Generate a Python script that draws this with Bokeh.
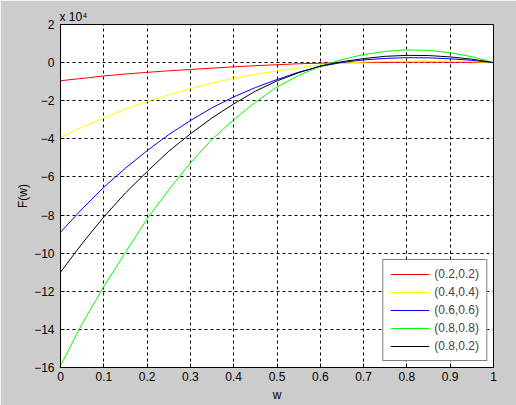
from bokeh.plotting import figure
from bokeh.models import Legend, LegendItem, Title, FixedTicker, Range1d
from bokeh.embed import file_html
from bokeh.resources import INLINE

# Data (F(w) in units of 10^4)
w = [0.0, 0.05, 0.1, 0.15, 0.2, 0.25, 0.3, 0.35, 0.4, 0.45, 0.5,
     0.55, 0.6, 0.65, 0.7, 0.75, 0.8, 0.85, 0.9, 0.95, 1.0]
f_02_02 = [-0.95, -0.83, -0.70, -0.60, -0.51, -0.43, -0.36, -0.29, -0.22, -0.16, -0.11,
           -0.06, -0.03, -0.01, 0.00, 0.01, 0.02, 0.02, 0.02, 0.01, 0.0]
f_04_04 = [-3.92, -3.39, -2.91, -2.44, -2.03, -1.70, -1.37, -1.07, -0.83, -0.61, -0.44,
           -0.27, -0.12, -0.03, 0.03, 0.06, 0.08, 0.09, 0.08, 0.05, 0.0]
f_06_06 = [-8.90, -7.68, -6.54, -5.54, -4.62, -3.78, -3.04, -2.37, -1.80, -1.31, -0.89,
           -0.50, -0.20, 0.01, 0.14, 0.22, 0.26, 0.25, 0.20, 0.12, 0.0]
f_08_08 = [-15.9, -13.7, -11.75, -9.96, -8.2, -6.68, -5.26, -4.02, -3.0, -2.08, -1.28,
           -0.67, -0.19, 0.16, 0.42, 0.59, 0.67, 0.64, 0.52, 0.31, 0.0]
f_08_02 = [-11.0, -9.49, -8.10, -6.84, -5.72, -4.65, -3.74, -2.90, -2.17, -1.50, -0.96,
           -0.53, -0.18, 0.05, 0.21, 0.33, 0.38, 0.37, 0.30, 0.18, 0.0]

series_labels = ["(0.2,0.2)", "(0.4,0.4)", "(0.6,0.6)", "(0.8,0.8)", "(0.8,0.2)"]
series_values = [f_02_02, f_04_04, f_06_06, f_08_08, f_08_02]
series_colors = ["#ff0000", "#ffff00", "#0000ff", "#00ff00", "#000000"]

x_ticks = [0, 0.1, 0.2, 0.3, 0.4, 0.5, 0.6, 0.7, 0.8, 0.9, 1.0]
y_ticks = [-16, -14, -12, -10, -8, -6, -4, -2, 0, 2]
exponent_text = "x 10\u2074"

FONT = "Liberation Sans"
GRAY = "#cccccc"

p = figure(width=516, height=405, output_backend="svg", toolbar_location=None,
           x_range=Range1d(0, 1), y_range=Range1d(-16, 2),
           min_border_left=60, min_border_right=23, min_border_top=24, min_border_bottom=38)
p.border_fill_color = GRAY
p.background_fill_color = "white"
p.outline_line_color = "black"
p.outline_line_width = 1

# exponent label shown above the axes, like MATLAB's "x 10^4"
p.title = Title(text=exponent_text, align="left", offset=-1, standoff=1,
                text_font=FONT, text_font_size="12px", text_font_style="normal",
                text_color="black")

renderers = []
for vals, col in zip(series_values, series_colors):
    r = p.line(w, vals, line_color=col, line_width=1)
    renderers.append(r)

for ax in (p.xaxis[0], p.yaxis[0]):
    ax.major_tick_in = 4
    ax.major_tick_out = 0
    ax.minor_tick_in = 0
    ax.minor_tick_out = 0
    ax.axis_line_color = "black"
    ax.major_tick_line_color = "black"
    ax.major_label_text_font = FONT
    ax.major_label_text_font_size = "12px"
    ax.major_label_text_color = "black"
    ax.axis_label_text_font = FONT
    ax.axis_label_text_font_size = "12px"
    ax.axis_label_text_font_style = "normal"
    ax.axis_label_text_color = "black"

p.xaxis.ticker = FixedTicker(ticks=x_ticks)
p.yaxis.ticker = FixedTicker(ticks=y_ticks)
p.xaxis.major_label_overrides = {t: ("0" if t == 0 else ("1" if t == 1 else f"{t:.1f}")) for t in x_ticks}
p.xaxis.axis_label = "w"
p.yaxis.axis_label = "F(w)"
p.xaxis.major_label_standoff = 4
p.xaxis.axis_label_standoff = 4
p.yaxis.major_label_standoff = 6
p.yaxis.axis_label_standoff = 1

p.xgrid.ticker = FixedTicker(ticks=x_ticks)
p.ygrid.ticker = FixedTicker(ticks=y_ticks)
for g in (p.xgrid[0], p.ygrid[0]):
    g.grid_line_color = "black"
    g.grid_line_dash = "3 3"
    g.grid_line_width = 1
    g.grid_line_alpha = 1.0

legend = Legend(items=[LegendItem(label=lab, renderers=[r]) for lab, r in zip(series_labels, renderers)],
                location="bottom_right")
legend.border_line_color = "black"
legend.border_line_width = 1
legend.background_fill_color = "white"
legend.background_fill_alpha = 1.0
legend.label_text_font = FONT
legend.label_text_font_size = "12px"
legend.glyph_width = 39
legend.glyph_height = 14
legend.label_height = 14
legend.spacing = 4
legend.padding = 7
legend.margin = 6
legend.label_standoff = 5
p.add_layout(legend)

html = file_html(p, INLINE)
html = html.replace("<body>", '<body style="background-color:#cccccc;">', 1)
open("out.html", "w").write(html)
